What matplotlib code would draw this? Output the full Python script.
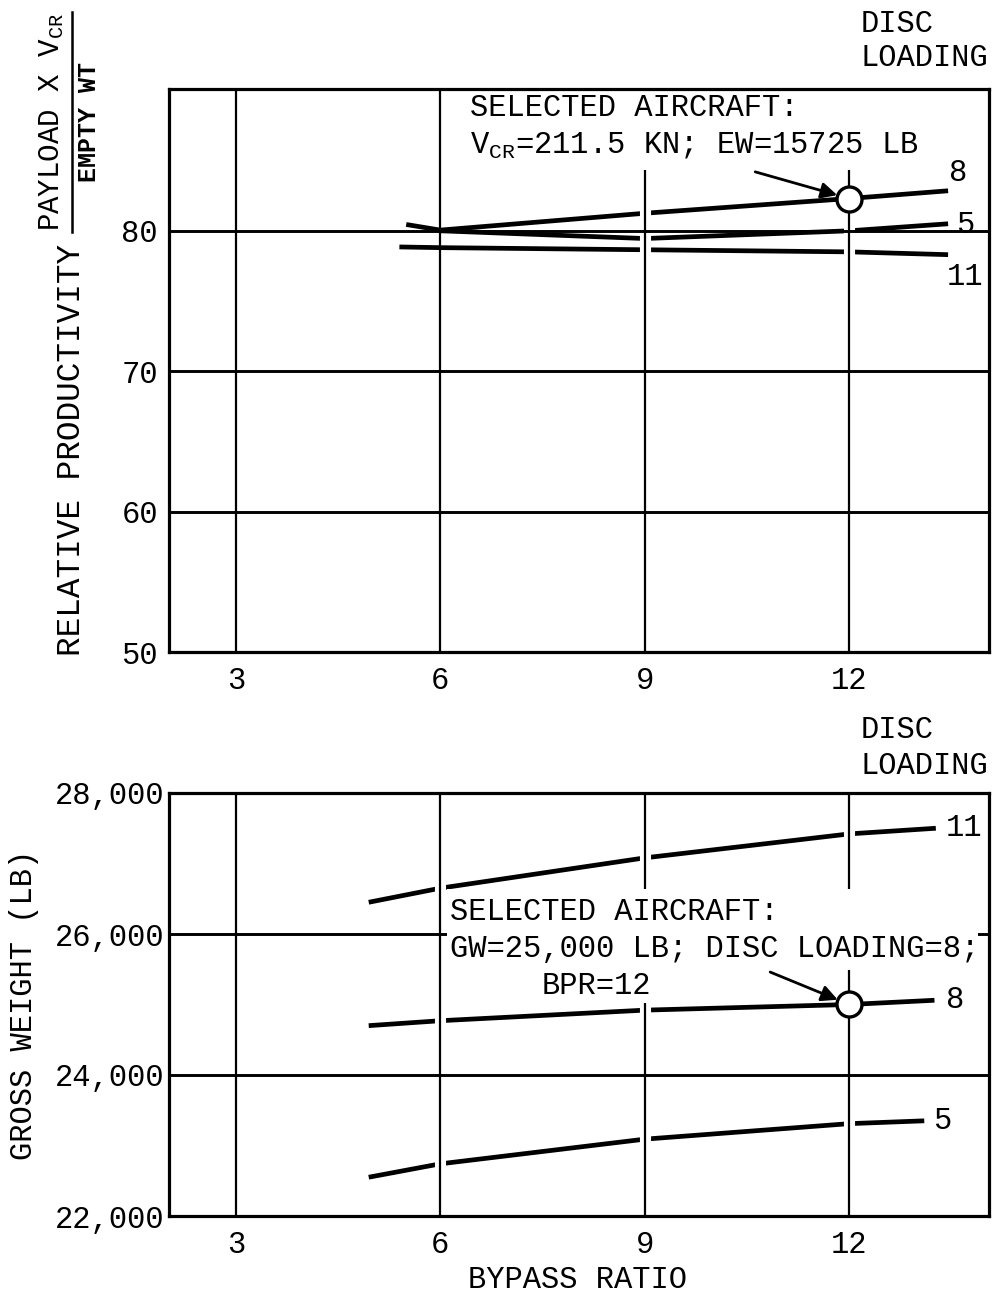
import matplotlib
matplotlib.use("Agg")
import matplotlib.pyplot as plt
from matplotlib.patches import Rectangle

plt.rcParams["font.family"] = ["Liberation Mono", "DejaVu Sans"]
plt.rcParams["mathtext.fontset"] = "custom"
plt.rcParams["mathtext.rm"] = "Liberation Mono"
plt.rcParams["mathtext.it"] = "Liberation Mono"
plt.rcParams["mathtext.bf"] = "Liberation Mono:bold"

# -----------------------------------------
# Data
# -----------------------------------------
# top panel: relative productivity vs bypass ratio, one curve per disc loading
prod_bpr_8 = [5.5, 6.0, 9.0, 12.0, 13.45]
prod_8 = [80.45, 80.05, 81.25, 82.3, 82.85]
prod_bpr_5 = [6.0, 9.0, 12.0, 13.45]
prod_5 = [80.0, 79.45, 80.0, 80.5]
prod_bpr_11 = [5.4, 6.0, 9.0, 12.0, 13.45]
prod_11 = [78.85, 78.8, 78.65, 78.5, 78.3]

# bottom panel: gross weight vs bypass ratio
gw_bpr_11 = [4.95, 6.0, 9.0, 12.0, 13.27]
gw_11 = [26450, 26650, 27080, 27420, 27500]
gw_bpr_8 = [4.95, 6.0, 9.0, 12.0, 13.25]
gw_8 = [24700, 24770, 24920, 25000, 25060]
gw_bpr_5 = [4.95, 6.0, 9.0, 12.0, 13.1]
gw_5 = [22550, 22740, 23090, 23310, 23350]

# selected aircraft
sel_bpr = 12
sel_prod = 82.3
sel_gw = 25000

x_ticks = [3, 6, 9, 12]
prod_ticks = [50, 60, 70, 80]
gw_ticks = [22000, 24000, 26000, 28000]

FS = 22
XLIM = (2.02, 14.05)

fig = plt.figure(figsize=(9.93, 13.04), dpi=100)
ax1 = fig.add_axes([169 / 993, 1 - 652 / 1304, 820 / 993, 563 / 1304])
ax2 = fig.add_axes([169 / 993, 1 - 1216 / 1304, 820 / 993, 423 / 1304])


def style_axes(ax, ylim, yticks, ylabels, ypad):
    ax.set_xlim(*XLIM)
    ax.set_ylim(*ylim)
    ax.set_xticks(x_ticks)
    ax.set_xticklabels([str(t) for t in x_ticks])
    ax.set_yticks(yticks)
    ax.set_yticklabels(ylabels)
    ax.tick_params(axis="both", length=0, labelsize=FS)
    ax.tick_params(axis="x", pad=10)
    ax.tick_params(axis="y", pad=ypad)
    for sp in ax.spines.values():
        sp.set_linewidth(2.3)
        sp.set_color("black")
        sp.set_zorder(6)
    for x in x_ticks:
        ax.axvline(x, color="black", lw=1.6, zorder=3)
    for y in yticks[1:]:
        ax.axhline(y, color="black", lw=2.1, zorder=3)


def curve_label(ax, txt, xs, ys, dx, dy):
    ax.annotate(txt, xy=(xs[-1], ys[-1]), xytext=(dx, dy), textcoords="offset points",
                fontsize=FS, ha="left", va="center", zorder=8)


# -----------------------------------------
# Top panel
# -----------------------------------------
style_axes(ax1, (50, 90.1), prod_ticks, [str(t) for t in prod_ticks], 8)

for xs, ys in [(prod_bpr_8, prod_8), (prod_bpr_5, prod_5), (prod_bpr_11, prod_11)]:
    ax1.plot(xs, ys, color="black", lw=3.4, solid_capstyle="butt", zorder=2)
for x in [9, 12]:
    ax1.axvline(x, color="white", lw=8, zorder=2.5)

ax1.add_patch(Rectangle((0.339, 0.856), 0.656, 0.14, transform=ax1.transAxes,
                        facecolor="white", edgecolor="none", zorder=3.5))
ax1.text(0.367, 0.952, "SELECTED AIRCRAFT:", transform=ax1.transAxes,
         fontsize=FS, ha="left", va="baseline", zorder=4)
ax1.text(0.367, 0.888, r"V$_{\mathrm{CR}}$=211.5 KN; EW=15725 LB", transform=ax1.transAxes,
         fontsize=FS, ha="left", va="baseline", zorder=4)

ax1.annotate("", xy=(sel_bpr, sel_prod), xytext=(10.62, 84.2),
             arrowprops=dict(arrowstyle="-|>", color="black", lw=2,
                             mutation_scale=24, shrinkA=0, shrinkB=9),
             zorder=5)
ax1.plot([sel_bpr], [sel_prod], marker="o", ms=18, mfc="white", mec="black",
         mew=2.4, zorder=6)

curve_label(ax1, "8", prod_bpr_8, prod_8, 1, 13)
curve_label(ax1, "5", prod_bpr_5, prod_5, 6, -1)
curve_label(ax1, "11", prod_bpr_11, prod_11, -1, -16)

# -----------------------------------------
# Bottom panel
# -----------------------------------------
style_axes(ax2, (22000, 28000), gw_ticks, [f"{t:,}" for t in gw_ticks], 3)

for xs, ys in [(gw_bpr_11, gw_11), (gw_bpr_8, gw_8), (gw_bpr_5, gw_5)]:
    ax2.plot(xs, ys, color="black", lw=3.4, solid_capstyle="butt", zorder=2)
for x in [6, 9, 12]:
    ax2.axvline(x, color="white", lw=8, zorder=2.5)

ax2.add_patch(Rectangle((0.339, 0.582), 0.648, 0.19, transform=ax2.transAxes,
                        facecolor="white", edgecolor="none", zorder=3.5))
ax2.add_patch(Rectangle((0.44, 0.5035), 0.173, 0.08, transform=ax2.transAxes,
                        facecolor="white", edgecolor="none", zorder=3.5))
ax2.text(0.343, 0.700, "SELECTED AIRCRAFT:", transform=ax2.transAxes,
         fontsize=FS, ha="left", va="baseline", zorder=4)
ax2.text(0.343, 0.612, "GW=25,000 LB; DISC LOADING=8;", transform=ax2.transAxes,
         fontsize=FS, ha="left", va="baseline", zorder=4)
ax2.text(0.455, 0.525, "BPR=12", transform=ax2.transAxes,
         fontsize=FS, ha="left", va="baseline", zorder=4)

ax2.annotate("", xy=(sel_bpr, sel_gw), xytext=(10.84, 25460),
             arrowprops=dict(arrowstyle="-|>", color="black", lw=2,
                             mutation_scale=24, shrinkA=0, shrinkB=9),
             zorder=5)
ax2.plot([sel_bpr], [sel_gw], marker="o", ms=18, mfc="white", mec="black",
         mew=2.4, zorder=6)

curve_label(ax2, "11", gw_bpr_11, gw_11, 7, 0)
curve_label(ax2, "8", gw_bpr_8, gw_8, 8, 0)
curve_label(ax2, "5", gw_bpr_5, gw_5, 6, 0)

# -----------------------------------------
# Figure level labels
# -----------------------------------------
W, H = 993, 1304
for y_px, txt in [(24, "DISC"), (58, "LOADING"), (730, "DISC"), (766, "LOADING")]:
    fig.text(861 / W, 1 - y_px / H, txt, fontsize=FS, ha="left", va="center")

fig.text(578 / W, 1 - 1280 / H, "BYPASS RATIO", fontsize=FS, ha="center", va="center")
fig.text(24 / W, 1 - 1005 / H, "GROSS WEIGHT (LB)", fontsize=FS, rotation=90,
         ha="center", va="center")

fig.text(72 / W, 1 - 450 / H, "RELATIVE PRODUCTIVITY", fontsize=23.5, rotation=90,
         ha="center", va="center")
fig.text(52 / W, 1 - 122 / H, r"PAYLOAD X V$_{\mathrm{CR}}$", fontsize=21, rotation=90,
         ha="center", va="center")
fig.add_artist(plt.Line2D([72 / W, 72 / W], [1 - 232 / H, 1 - 12 / H], color="black", lw=1.8,
                          transform=fig.transFigure))
fig.text(89 / W, 1 - 122 / H, "EMPTY WT", fontsize=18, fontweight="bold", rotation=90,
         ha="center", va="center")

fig.savefig("out.png", dpi=100, facecolor="white")
